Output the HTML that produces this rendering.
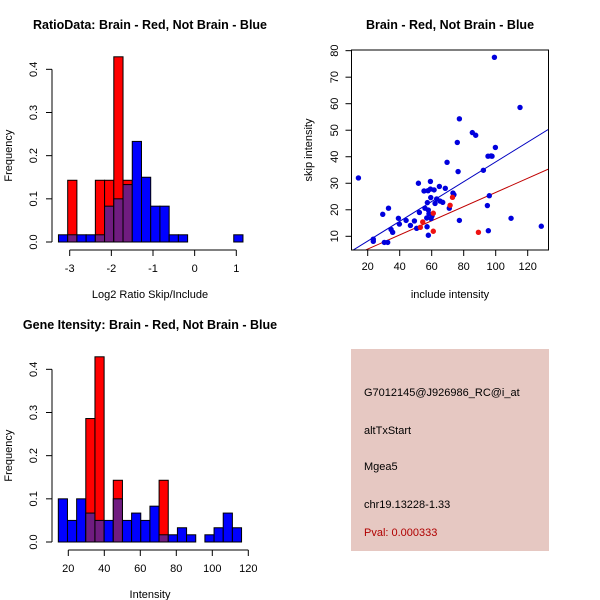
<!DOCTYPE html>
<html><head><meta charset="utf-8"><style>
body{margin:0;background:#fff}
svg{display:block;font-family:"Liberation Sans",Arial,sans-serif}
</style></head><body>
<svg id="s" width="600" height="600" viewBox="0 0 600 600" xmlns="http://www.w3.org/2000/svg">
<rect x="0" y="0" width="600" height="600" fill="#fff"/>
<text x="150" y="29" text-anchor="middle" font-size="12.5" font-weight="bold">RatioData: Brain - Red, Not Brain - Blue</text>
<text x="450" y="29" text-anchor="middle" font-size="12.5" font-weight="bold">Brain - Red, Not Brain - Blue</text>
<text x="150" y="329" text-anchor="middle" font-size="12.5" font-weight="bold">Gene Itensity: Brain - Red, Not Brain - Blue</text>
<g id="tl"></g>
<g id="bl"></g>
<g id="tr"></g>
<g>
<rect x="351" y="349" width="198" height="202" fill="#e6c8c2"/>
<text x="364" y="396" font-size="11">G7012145@J926986_RC@i_at</text>
<text x="364" y="434" font-size="11">altTxStart</text>
<text x="364" y="470" font-size="11">Mgea5</text>
<text x="364" y="508" font-size="11">chr19.13228-1.33</text>
<text x="364" y="536" font-size="11" fill="#b00000">Pval: 0.000333</text>
</g>
</svg>
<script>
// Ratio histogram data
const ratioBinStart = -3.27, ratioBinWidth = 0.2215;
const ratioBlue = [0.0167,0.0167,0.0167,0.0167,0.0167,0.083,0.1,0.133,0.233,0.15,0.083,0.083,0.0167,0.0167,0,0,0,0,0,0.0167];
const ratioRed  = [0,0.143,0,0,0.143,0.143,0.429,0.143,0,0,0,0,0,0,0,0,0,0,0,0];
const ratioXTicks = [-3,-2,-1,0,1];
// Intensity histogram data
const intBinStart = 14.45, intBinWidth = 5.09;
const intBlue = [0.1,0.05,0.1,0.067,0.05,0.05,0.1,0.05,0.067,0.05,0.083,0.0167,0.0167,0.033,0.0167,0,0.0167,0.033,0.067,0.033];
const intRed  = [0,0,0,0.286,0.429,0,0.143,0,0,0,0,0.143,0,0,0,0,0,0,0,0];
const intXTicks = [20,40,60,80,100,120];
const yTicks = [0,0.1,0.2,0.3,0.4];
// Scatter data
const blueX = [14.2,23.5,23.5,29.4,30.4,32.5,33,34.6,35.6,39.2,39.8,44,46.7,49.2,50.6,51.7,52.3,55.2,55.8,56.9,57.1,57.3,57.7,57.9,57.9,58.3,59.2,59.2,59.4,59.6,60.2,61.5,62.1,63.1,64.8,65.2,66.9,68.5,69.6,71,73.3,73.9,76,76.5,77.3,77.3,85.4,87.5,92.3,94.8,95.2,96,97.1,95.4,97.7,99.2,99.8,109.6,115.2,128.5];
const blueY = [32,8.9,8.1,18.3,7.7,7.7,20.6,12.6,11.5,16.8,14.6,16,14.1,15.8,13,30,19,27.1,20.6,16.9,13.6,22.7,27.2,19.9,10.4,18.5,30.7,27.8,24.6,16.7,17.7,27.5,22.4,24.1,28.8,23.3,22.8,28.1,37.9,20.6,26.3,25.7,45.4,34.4,54.3,16,49.1,48.1,34.9,21.6,40.2,25.3,40.3,12.1,40.2,77.5,43.5,16.8,58.6,13.8];
const redX = [52.9,54.4,61,61,71.5,73,89.2];
const redY = [13.4,15.4,18.7,11.9,21.7,24.7,11.5];
const blueFit = [0.74,0.373]; // intercept, slope
const redFit = [-0.16,0.267];
const scatterXTicks = [20,40,60,80,100,120];
const scatterYTicks = [10,20,30,40,50,60,70,80];

const NS="http://www.w3.org/2000/svg";
function mk(parent,tag,attrs){const e=document.createElementNS(NS,tag);for(const k in attrs)e.setAttribute(k,attrs[k]);parent.appendChild(e);return e;}

function hist(gid,y0,x0px,unitPx,xref,binStart,binW,blue,red,xt,xlabel){
  const g=document.getElementById(gid);
  const sx=v=>x0px+(v-xref)*unitPx;
  const sy=v=>y0-v*431.7;
  for(let i=0;i<blue.length;i++){
    const a=sx(binStart+i*binW), b=sx(binStart+(i+1)*binW);
    const r=red[i], bl=blue[i];
    if(r>0){const e=mk(g,'rect',{x:a,y:sy(r),width:b-a,height:sy(0)-sy(r),fill:'#ff0000',stroke:'#000','stroke-width':1});
      }
    if(bl>0){const col=r>0?'#701c80':'#0000ff';
      const e=mk(g,'rect',{x:a,y:sy(bl),width:b-a,height:sy(0)-sy(bl),fill:col,stroke:'#000','stroke-width':1});
      }
  }
  const ya=mk(g,'line',{x1:52,x2:52,y1:sy(0),y2:sy(0.4),stroke:'#000'});
  
  yTicks.forEach(t=>{mk(g,'line',{x1:46,x2:52,y1:sy(t),y2:sy(t),stroke:'#000'});
    const tx=mk(g,'text',{x:0,y:0,'font-size':11,'text-anchor':'middle',transform:`translate(37,${sy(t)}) rotate(-90)`});
    tx.textContent=t.toFixed(1);
    });
  const yl=mk(g,'text',{x:0,y:0,'font-size':11,'text-anchor':'middle',transform:`translate(12,${sy(0.2)}) rotate(-90)`});
  yl.textContent='Frequency';
  const ax=y0+8;
  const xa=mk(g,'line',{x1:sx(xt[0]),x2:sx(xt[xt.length-1]),y1:ax,y2:ax,stroke:'#000'});
  
  xt.forEach(t=>{mk(g,'line',{x1:sx(t),x2:sx(t),y1:ax,y2:ax+6,stroke:'#000'});
    const tx=mk(g,'text',{x:sx(t),y:ax+22,'font-size':11,'text-anchor':'middle'});tx.textContent=t;
    });
  const xl=mk(g,'text',{x:150,y:y0+56,'font-size':11,'text-anchor':'middle'});xl.textContent=xlabel;
  
}
hist('tl',242,69.7,41.65,-3,ratioBinStart,ratioBinWidth,ratioBlue,ratioRed,ratioXTicks,'Log2 Ratio Skip/Include');
hist('bl',542,68.3,1.8,20,intBinStart,intBinWidth,intBlue,intRed,intXTicks,'Intensity');

(function(){
  const g=document.getElementById('tr');
  const sx=v=>367.7+(v-20)*1.6;
  const sy=v=>236.3-(v-10)*2.652;
  const L=351.5,R=548.5,T=50,B=250;
  mk(g,'defs',{}).innerHTML='<clipPath id="cp"><rect x="351.5" y="50" width="197" height="200"/></clipPath>';
  const lg=mk(g,'g',{'clip-path':'url(#cp)'});
  [[blueFit,'#0000c0','blue-fit-line'],[redFit,'#c00000','red-fit-line']].forEach(([f,c,n])=>{
    const x1=5,x2=140;
    const l=mk(lg,'line',{x1:sx(x1),x2:sx(x2),y1:sy(f[0]+f[1]*x1),y2:sy(f[0]+f[1]*x2),stroke:c,'stroke-width':1});
    
  });
  blueX.forEach((x,i)=>{const c=mk(g,'circle',{cx:sx(x),cy:sy(blueY[i]),r:2.7,fill:'#0000dd'});
    });
  redX.forEach((x,i)=>{const c=mk(g,'circle',{cx:sx(x),cy:sy(redY[i]),r:2.7,fill:'#ee1111'});
    });
  const fr=mk(g,'rect',{x:L,y:T,width:R-L,height:B-T,fill:'none',stroke:'#000'});
  
  scatterXTicks.forEach(t=>{mk(g,'line',{x1:sx(t),x2:sx(t),y1:B,y2:B+6,stroke:'#000'});
    const tx=mk(g,'text',{x:sx(t),y:B+20,'font-size':11,'text-anchor':'middle'});tx.textContent=t;
    });
  scatterYTicks.forEach(t=>{mk(g,'line',{x1:L-6,x2:L,y1:sy(t),y2:sy(t),stroke:'#000'});
    const tx=mk(g,'text',{x:0,y:0,'font-size':11,'text-anchor':'middle',transform:`translate(338,${sy(t)}) rotate(-90)`});tx.textContent=t;
    });
  const xl=mk(g,'text',{x:450,y:298,'font-size':11,'text-anchor':'middle'});xl.textContent='include intensity';
  
  const yl=mk(g,'text',{x:0,y:0,'font-size':11,'text-anchor':'middle',transform:'translate(312,150) rotate(-90)'});yl.textContent='skip intensity';
  
})();
</script>
</body></html>
